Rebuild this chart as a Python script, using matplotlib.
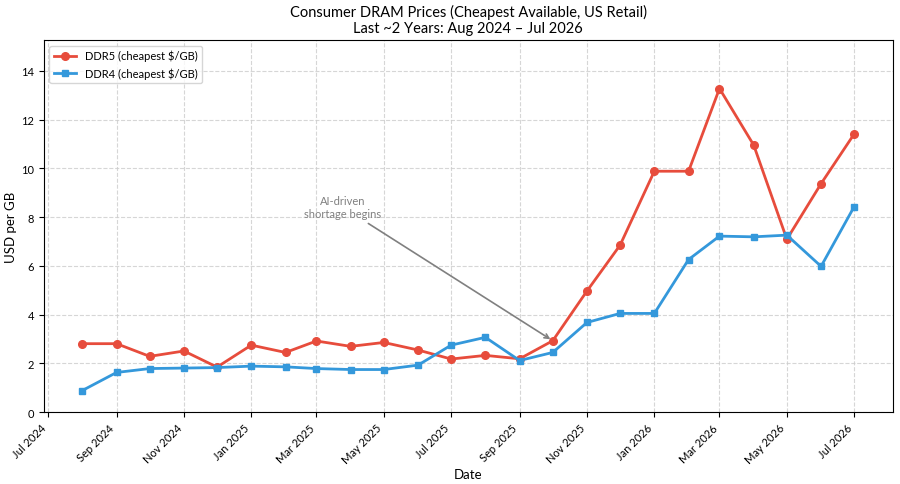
import datetime as dt

import matplotlib
matplotlib.use("Agg")
import matplotlib.pyplot as plt
import matplotlib.dates as mdates

plt.rcParams['font.family'] = ['Lato', 'DejaVu Sans']

# monthly points, Aug 2024 .. Jul 2026
months = [dt.date(2024 + (7 + i) // 12, (7 + i) % 12 + 1, 1) for i in range(24)]

ddr5 = [2.81, 2.81, 2.29, 2.51, 1.85, 2.75, 2.45, 2.92, 2.70, 2.86, 2.55, 2.18,
        2.33, 2.19, 2.93, 4.97, 6.85, 9.88, 9.88, 13.27, 10.95, 7.09, 9.37, 11.41]
ddr4 = [0.89, 1.63, 1.79, 1.81, 1.83, 1.89, 1.86, 1.79, 1.75, 1.75, 1.93, 2.75,
        3.07, 2.12, 2.45, 3.68, 4.05, 4.05, 6.26, 7.22, 7.19, 7.26, 5.98, 8.43]

annot_text = "AI-driven\nshortage begins"
annot_target = (dt.date(2025, 10, 1), 2.93)
annot_pos = (dt.date(2025, 3, 25), 8.4)

fig = plt.figure(figsize=(9, 4.85), dpi=100)
ax = fig.add_axes([0.0486, 0.148, 0.9434, 0.7675])

ax.plot(months, ddr5, color='#e74c3c', marker='o', lw=2, ms=5.5,
        label='DDR5 (cheapest $/GB)')
ax.plot(months, ddr4, color='#3498db', marker='s', lw=2, ms=5,
        label='DDR4 (cheapest $/GB)')

ax.annotate(annot_text, xy=annot_target, xytext=annot_pos,
            ha='center', va='center', fontsize=8, color='gray',
            arrowprops=dict(arrowstyle='->', color='gray', lw=1.2))

ax.set_ylim(0, max(ddr5) * 1.15)
ax.xaxis.set_major_locator(mdates.MonthLocator(bymonth=[1, 3, 5, 7, 9, 11]))
ax.xaxis.set_major_formatter(mdates.DateFormatter('%b %Y'))
plt.setp(ax.get_xticklabels(), rotation=45, ha='right')
ax.tick_params(labelsize=8)

ax.grid(True, ls='--', color='#cccccc', alpha=0.8)
ax.set_xlabel('Date', fontsize=9.5, labelpad=2)
ax.set_ylabel('USD per GB', fontsize=9.5, labelpad=3)
ax.set_title('Consumer DRAM Prices (Cheapest Available, US Retail)\n'
             'Last ~2 Years: Aug 2024 \u2013 Jul 2026', fontsize=10.5, linespacing=1.15)
ax.legend(loc='upper left', fontsize=8)

fig.savefig('out.png', dpi=100)
